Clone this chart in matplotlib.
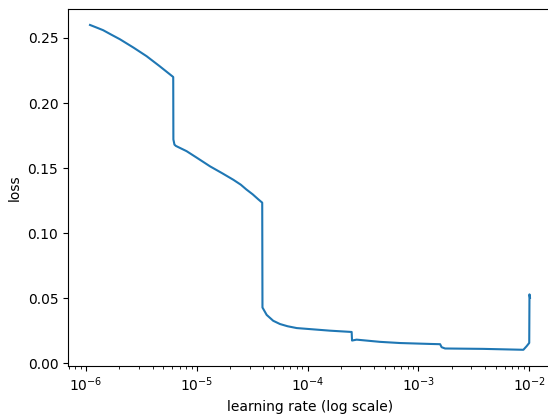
import matplotlib
matplotlib.use("Agg")
import matplotlib.pyplot as plt

# values (lr on log scale, loss)
lrs = [1.09e-6, 1.25e-6, 1.43e-6, 1.7e-6, 2.03e-6, 2.7e-6, 3.53e-6, 4.6e-6,
       6.14e-6, 6.16e-6, 6.3e-6, 6.49e-6, 8.1e-6, 1.0e-5, 1.32e-5, 1.7e-5,
       2.14e-5, 2.5e-5, 2.8e-5, 3.2e-5, 3.59e-5, 3.9e-5, 3.92e-5, 4.28e-5,
       4.9e-5, 5.64e-5, 6.6e-5, 7.98e-5, 1.59e-4, 2.50e-4, 2.52e-4, 2.77e-4,
       4.5e-4, 6.82e-4, 1.27e-3, 1.57e-3, 1.62e-3, 1.74e-3, 3.85e-3,
       8.85e-3, 9.48e-3, 1.0e-2, 1.005e-2, 1.016e-2]
losses = [0.260, 0.258, 0.256, 0.2525, 0.249, 0.2425, 0.236, 0.2285,
          0.220, 0.172, 0.168, 0.167, 0.163, 0.158, 0.1513, 0.146,
          0.141, 0.1372, 0.1336, 0.1298, 0.126, 0.1234, 0.0428, 0.0371,
          0.0326, 0.0301, 0.0284, 0.027, 0.025, 0.024, 0.0174, 0.0181,
          0.0164, 0.0155, 0.0148, 0.0146, 0.0123, 0.0113, 0.011,
          0.0103, 0.0131, 0.0156, 0.0529, 0.0504]

fig = plt.figure(figsize=(5.48, 4.15), dpi=100)
ax = fig.add_axes([0.1241, 0.118, 0.8832, 0.861])

ax.plot(lrs, losses, color="#1f77b4", linewidth=1.5)
ax.set_xscale("log")
ax.set_xlabel("learning rate (log scale)")
ax.set_ylabel("loss")

fig.savefig("out.png", dpi=100)
